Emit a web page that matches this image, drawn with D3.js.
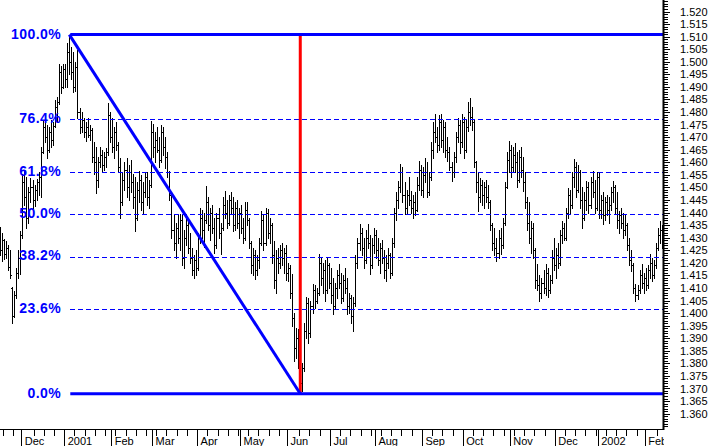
<!DOCTYPE html>
<html><head><meta charset="utf-8">
<script src="https://cdn.jsdelivr.net/npm/d3@7"></script>
<style>body{margin:0;background:#fff}svg{display:block}</style>
</head><body><svg id="c" width="714" height="446"></svg>
<script>
const startDate = "2000-11-16";
const monthLabels = ["Dec","2001","Feb","Mar","Apr","May","Jun","Jul","Aug","Sep","Oct","Nov","Dec","2002","Feb"];
const fibLevels = [0, 23.6, 38.2, 50.0, 61.8, 76.4, 100.0];
const fibLabels = ["0.0%","23.6%","38.2%","50.0%","61.8%","76.4%","100.0%"];

const opens = [
1.4300,1.4250,1.4290,1.4235,1.4260,1.4185,1.4100,1.3990,1.4070,1.4160,
1.4220,1.4310,1.4520,1.4460,1.4380,1.4480,1.4500,1.4450,1.4490,1.4520,
1.4540,1.4640,1.4740,1.4700,1.4650,1.4720,1.4690,1.4745,1.4820,1.4840,
1.4960,1.4900,1.4970,1.4930,1.5040,1.5000,1.4960,1.4900,1.4980,1.4800,
1.4740,1.4770,1.4720,1.4740,1.4710,1.4730,1.4620,1.4600,1.4530,1.4600,
1.4630,1.4590,1.4620,1.4640,1.4790,1.4700,1.4660,1.4720,1.4670,1.4580,
1.4440,1.4530,1.4570,1.4500,1.4560,1.4520,1.4460,1.4380,1.4490,1.4530,
1.4440,1.4480,1.4540,1.4460,1.4510,1.4720,1.4660,1.4690,1.4650,1.4610,
1.4720,1.4660,1.4620,1.4560,1.4470,1.4330,1.4280,1.4340,1.4300,1.4370,
1.4220,1.4300,1.4350,1.4260,1.4220,1.4170,1.4210,1.4180,1.4300,1.4380,
1.4330,1.4370,1.4440,1.4350,1.4400,1.4340,1.4270,1.4380,1.4320,1.4340,
1.4430,1.4400,1.4360,1.4450,1.4420,1.4350,1.4420,1.4360,1.4400,1.4340,
1.4300,1.4410,1.4370,1.4280,1.4190,1.4230,1.4170,1.4210,1.4280,1.4370,
1.4280,1.4400,1.4320,1.4350,1.4230,1.4130,1.4220,1.4200,1.4250,1.4220,
1.4240,1.4160,1.4180,1.4080,1.3980,1.3860,1.3900,1.3810,1.3720,1.3780,
1.3930,1.4040,1.3920,1.4030,1.4090,1.4050,1.4080,1.4200,1.4140,1.4170,
1.4090,1.4190,1.4120,1.4070,1.4030,1.4100,1.4150,1.4120,1.4060,1.4130,
1.4100,1.4030,1.4060,1.3990,1.4040,1.4200,1.4280,1.4320,1.4260,1.4210,
1.4300,1.4280,1.4190,1.4270,1.4310,1.4250,1.4210,1.4260,1.4220,1.4170,
1.4200,1.4230,1.4160,1.4280,1.4400,1.4450,1.4500,1.4560,1.4470,1.4420,
1.4470,1.4450,1.4420,1.4440,1.4410,1.4510,1.4570,1.4490,1.4550,1.4560,
1.4480,1.4540,1.4650,1.4720,1.4700,1.4670,1.4760,1.4690,1.4740,1.4650,
1.4640,1.4580,1.4560,1.4620,1.4700,1.4750,1.4680,1.4760,1.4650,1.4740,
1.4800,1.4780,1.4760,1.4600,1.4520,1.4460,1.4510,1.4470,1.4500,1.4460,
1.4440,1.4350,1.4280,1.4260,1.4240,1.4300,1.4270,1.4360,1.4500,1.4610,
1.4650,1.4580,1.4630,1.4600,1.4530,1.4620,1.4570,1.4520,1.4440,1.4360,
1.4300,1.4340,1.4250,1.4130,1.4110,1.4080,1.4120,1.4100,1.4160,1.4090,
1.4130,1.4220,1.4190,1.4230,1.4200,1.4310,1.4340,1.4300,1.4400,1.4470,
1.4430,1.4540,1.4580,1.4490,1.4560,1.4450,1.4380,1.4450,1.4500,1.4430,
1.4520,1.4480,1.4420,1.4540,1.4410,1.4450,1.4390,1.4440,1.4410,1.4430,
1.4480,1.4500,1.4420,1.4370,1.4390,1.4360,1.4330,1.4350,1.4270,1.4210,
1.4190,1.4100,1.4070,1.4090,1.4150,1.4120,1.4140,1.4110,1.4170,1.4200,
1.4150,1.4190,1.4260,1.4310,1.4330];

const highs = [
1.4344,1.4320,1.4296,1.4285,1.4270,1.4249,1.4105,1.4089,1.4181,1.4249,
1.4328,1.4555,1.4567,1.4540,1.4500,1.4539,1.4530,1.4510,1.4535,1.4560,
1.4659,1.4766,1.4778,1.4750,1.4740,1.4770,1.4760,1.4846,1.4860,1.4993,
1.4985,1.4993,1.4990,1.5073,1.5108,1.5057,1.5040,1.5000,1.5045,1.4818,
1.4800,1.4778,1.4760,1.4775,1.4750,1.4735,1.4680,1.4659,1.4620,1.4659,
1.4650,1.4640,1.4655,1.4834,1.4800,1.4778,1.4740,1.4760,1.4680,1.4619,
1.4560,1.4600,1.4619,1.4590,1.4610,1.4555,1.4540,1.4520,1.4567,1.4550,
1.4520,1.4560,1.4560,1.4530,1.4766,1.4754,1.4720,1.4740,1.4700,1.4750,
1.4740,1.4700,1.4640,1.4567,1.4480,1.4396,1.4360,1.4390,1.4396,1.4390,
1.4330,1.4380,1.4370,1.4320,1.4260,1.4230,1.4250,1.4320,1.4420,1.4410,
1.4400,1.4507,1.4460,1.4420,1.4430,1.4380,1.4400,1.4420,1.4360,1.4460,
1.4487,1.4450,1.4470,1.4480,1.4460,1.4440,1.4448,1.4420,1.4430,1.4380,
1.4440,1.4440,1.4380,1.4288,1.4260,1.4250,1.4230,1.4300,1.4408,1.4390,
1.4420,1.4415,1.4380,1.4360,1.4288,1.4250,1.4260,1.4270,1.4277,1.4260,
1.4270,1.4200,1.4190,1.4157,1.4000,1.3942,1.3935,1.3830,1.3800,1.3960,
1.4062,1.4060,1.4050,1.4117,1.4110,1.4100,1.4237,1.4220,1.4200,1.4210,
1.4220,1.4200,1.4181,1.4140,1.4120,1.4170,1.4197,1.4160,1.4150,1.4180,
1.4140,1.4080,1.4070,1.4062,1.4230,1.4300,1.4356,1.4340,1.4300,1.4330,
1.4356,1.4310,1.4300,1.4340,1.4330,1.4300,1.4280,1.4290,1.4250,1.4230,
1.4260,1.4240,1.4300,1.4420,1.4480,1.4527,1.4595,1.4580,1.4520,1.4490,
1.4540,1.4487,1.4470,1.4480,1.4540,1.4607,1.4590,1.4580,1.4619,1.4600,
1.4560,1.4680,1.4760,1.4794,1.4740,1.4790,1.4794,1.4770,1.4760,1.4700,
1.4660,1.4600,1.4640,1.4720,1.4778,1.4770,1.4794,1.4780,1.4770,1.4840,
1.4854,1.4820,1.4770,1.4607,1.4560,1.4539,1.4530,1.4520,1.4530,1.4510,
1.4450,1.4360,1.4340,1.4300,1.4330,1.4340,1.4380,1.4520,1.4640,1.4686,
1.4670,1.4660,1.4675,1.4640,1.4650,1.4660,1.4620,1.4560,1.4460,1.4440,
1.4368,1.4360,1.4260,1.4197,1.4150,1.4140,1.4170,1.4197,1.4180,1.4150,
1.4250,1.4300,1.4260,1.4280,1.4330,1.4368,1.4360,1.4420,1.4499,1.4490,
1.4560,1.4615,1.4600,1.4590,1.4570,1.4500,1.4480,1.4527,1.4520,1.4540,
1.4567,1.4530,1.4560,1.4560,1.4470,1.4480,1.4460,1.4470,1.4460,1.4500,
1.4527,1.4510,1.4480,1.4408,1.4420,1.4400,1.4390,1.4360,1.4300,1.4250,
1.4200,1.4117,1.4110,1.4170,1.4197,1.4160,1.4180,1.4190,1.4237,1.4220,
1.4210,1.4280,1.4340,1.4368,1.4350];

const lows = [
1.4230,1.4209,1.4215,1.4220,1.4170,1.4141,1.3962,1.3985,1.4060,1.4141,
1.4157,1.4300,1.4430,1.4340,1.4360,1.4440,1.4420,1.4425,1.4450,1.4470,
1.4460,1.4635,1.4680,1.4619,1.4640,1.4660,1.4670,1.4740,1.4766,1.4830,
1.4874,1.4894,1.4900,1.4898,1.4953,1.4930,1.4878,1.4885,1.4778,1.4715,
1.4720,1.4700,1.4686,1.4700,1.4690,1.4600,1.4555,1.4476,1.4500,1.4580,
1.4567,1.4570,1.4580,1.4630,1.4680,1.4640,1.4619,1.4650,1.4560,1.4380,
1.4430,1.4490,1.4460,1.4448,1.4480,1.4420,1.4328,1.4370,1.4440,1.4410,
1.4396,1.4460,1.4430,1.4420,1.4500,1.4620,1.4600,1.4640,1.4580,1.4600,
1.4630,1.4579,1.4540,1.4448,1.4300,1.4250,1.4221,1.4280,1.4250,1.4190,
1.4181,1.4270,1.4240,1.4200,1.4150,1.4141,1.4150,1.4170,1.4280,1.4300,
1.4261,1.4360,1.4330,1.4290,1.4320,1.4240,1.4260,1.4300,1.4237,1.4330,
1.4380,1.4340,1.4350,1.4400,1.4328,1.4330,1.4340,1.4300,1.4320,1.4277,
1.4290,1.4350,1.4260,1.4160,1.4150,1.4137,1.4150,1.4181,1.4270,1.4250,
1.4270,1.4300,1.4277,1.4200,1.4100,1.4078,1.4160,1.4180,1.4190,1.4160,
1.4130,1.4129,1.4060,1.3950,1.3811,1.3820,1.3783,1.3679,1.3690,1.3770,
1.3900,1.3879,1.3903,1.4000,1.4020,1.4040,1.4070,1.4110,1.4080,1.4050,
1.4080,1.4100,1.4040,1.3998,1.4020,1.4060,1.4100,1.4040,1.4050,1.4080,
1.3998,1.4000,1.3960,1.3930,1.4030,1.4181,1.4250,1.4230,1.4180,1.4200,
1.4260,1.4157,1.4180,1.4240,1.4220,1.4190,1.4160,1.4200,1.4140,1.4129,
1.4180,1.4140,1.4150,1.4261,1.4370,1.4420,1.4480,1.4440,1.4396,1.4400,
1.4430,1.4400,1.4380,1.4390,1.4408,1.4490,1.4470,1.4460,1.4520,1.4460,
1.4470,1.4530,1.4619,1.4680,1.4640,1.4650,1.4660,1.4640,1.4620,1.4607,
1.4570,1.4527,1.4540,1.4600,1.4680,1.4635,1.4660,1.4619,1.4640,1.4726,
1.4750,1.4730,1.4580,1.4480,1.4408,1.4440,1.4430,1.4420,1.4440,1.4420,
1.4330,1.4250,1.4230,1.4209,1.4220,1.4237,1.4260,1.4350,1.4499,1.4560,
1.4540,1.4560,1.4560,1.4500,1.4520,1.4540,1.4487,1.4420,1.4330,1.4277,
1.4240,1.4221,1.4100,1.4090,1.4050,1.4060,1.4080,1.4070,1.4062,1.4080,
1.4120,1.4170,1.4141,1.4180,1.4190,1.4277,1.4290,1.4290,1.4380,1.4400,
1.4420,1.4500,1.4460,1.4480,1.4420,1.4340,1.4370,1.4410,1.4400,1.4420,
1.4460,1.4400,1.4410,1.4380,1.4380,1.4356,1.4370,1.4390,1.4360,1.4410,
1.4440,1.4400,1.4340,1.4320,1.4340,1.4300,1.4310,1.4250,1.4190,1.4169,
1.4080,1.4050,1.4055,1.4080,1.4100,1.4078,1.4090,1.4100,1.4140,1.4129,
1.4140,1.4180,1.4249,1.4280,1.4260];

const closes = [
1.4250,1.4290,1.4235,1.4260,1.4185,1.4150,1.3990,1.4070,1.4160,1.4220,
1.4310,1.4520,1.4460,1.4380,1.4480,1.4500,1.4450,1.4490,1.4520,1.4540,
1.4640,1.4740,1.4700,1.4650,1.4720,1.4690,1.4745,1.4820,1.4840,1.4960,
1.4900,1.4970,1.4930,1.5040,1.5000,1.4960,1.4900,1.4980,1.4800,1.4740,
1.4770,1.4720,1.4740,1.4710,1.4730,1.4620,1.4600,1.4530,1.4600,1.4630,
1.4590,1.4620,1.4640,1.4790,1.4700,1.4660,1.4720,1.4670,1.4580,1.4440,
1.4530,1.4570,1.4500,1.4560,1.4520,1.4460,1.4380,1.4490,1.4530,1.4440,
1.4480,1.4540,1.4460,1.4510,1.4720,1.4660,1.4690,1.4650,1.4610,1.4720,
1.4660,1.4620,1.4560,1.4470,1.4330,1.4280,1.4340,1.4300,1.4370,1.4220,
1.4300,1.4350,1.4260,1.4220,1.4170,1.4210,1.4180,1.4300,1.4380,1.4330,
1.4370,1.4440,1.4350,1.4400,1.4340,1.4270,1.4380,1.4320,1.4340,1.4430,
1.4400,1.4360,1.4450,1.4420,1.4350,1.4420,1.4360,1.4400,1.4340,1.4300,
1.4410,1.4370,1.4280,1.4190,1.4230,1.4170,1.4210,1.4280,1.4370,1.4280,
1.4400,1.4320,1.4350,1.4230,1.4130,1.4220,1.4200,1.4250,1.4220,1.4240,
1.4160,1.4180,1.4080,1.3980,1.3860,1.3900,1.3810,1.3720,1.3780,1.3930,
1.4040,1.3920,1.4030,1.4090,1.4050,1.4080,1.4200,1.4140,1.4170,1.4090,
1.4190,1.4120,1.4070,1.4030,1.4100,1.4150,1.4120,1.4060,1.4130,1.4100,
1.4030,1.4060,1.3990,1.4040,1.4200,1.4280,1.4320,1.4260,1.4210,1.4300,
1.4280,1.4190,1.4270,1.4310,1.4250,1.4210,1.4260,1.4220,1.4170,1.4200,
1.4230,1.4160,1.4280,1.4400,1.4450,1.4500,1.4560,1.4470,1.4420,1.4470,
1.4450,1.4420,1.4440,1.4410,1.4510,1.4570,1.4490,1.4550,1.4560,1.4480,
1.4540,1.4650,1.4720,1.4700,1.4670,1.4760,1.4690,1.4740,1.4650,1.4640,
1.4580,1.4560,1.4620,1.4700,1.4750,1.4680,1.4760,1.4650,1.4740,1.4800,
1.4780,1.4760,1.4600,1.4520,1.4460,1.4510,1.4470,1.4500,1.4460,1.4440,
1.4350,1.4280,1.4260,1.4240,1.4300,1.4270,1.4360,1.4500,1.4610,1.4650,
1.4580,1.4630,1.4600,1.4530,1.4620,1.4570,1.4520,1.4440,1.4360,1.4300,
1.4340,1.4250,1.4130,1.4110,1.4080,1.4120,1.4100,1.4160,1.4090,1.4130,
1.4220,1.4190,1.4230,1.4200,1.4310,1.4340,1.4300,1.4400,1.4470,1.4430,
1.4540,1.4580,1.4490,1.4560,1.4450,1.4380,1.4450,1.4500,1.4430,1.4520,
1.4480,1.4420,1.4540,1.4410,1.4450,1.4390,1.4440,1.4410,1.4430,1.4480,
1.4500,1.4420,1.4370,1.4390,1.4360,1.4330,1.4350,1.4270,1.4210,1.4190,
1.4100,1.4070,1.4090,1.4150,1.4120,1.4140,1.4110,1.4170,1.4200,1.4150,
1.4190,1.4260,1.4310,1.4330,1.4290];

const n = closes.length;
// trading-day calendar (weekdays from the start date)
const dates = [];
{ const d = new Date(startDate + "T12:00:00Z");
  while (dates.length < n) { const wd = d.getUTCDay(); if (wd !== 0 && wd !== 6) dates.push(new Date(d)); d.setUTCDate(d.getUTCDate() + 1); } }

const svg = d3.select("#c");
const plotRight = 664, axisY = 429.5;
const x = d3.scaleLinear().domain([0, n - 1]).range([-0.2, -0.2 + 2.044 * (n - 1)]);
const y = d3.scaleLinear().domain([1.360, 1.520]).range([413.6, 11.5]);
const FONT = "'Liberation Sans', Arial, Helvetica, sans-serif";
const BLUE = "#0000ff";

svg.append("defs").append("clipPath").attr("id", "plotclip")
  .append("rect").attr("x", 0).attr("y", 0).attr("width", plotRight - 1).attr("height", axisY);
svg.select("defs").append("clipPath").attr("id", "xclip")
  .append("rect").attr("x", 0).attr("y", axisY - 1).attr("width", plotRight).attr("height", 30);

// OHLC bars
const bars = svg.append("g").attr("clip-path", "url(#plotclip)")
  .attr("stroke", "#000").attr("stroke-width", 1).attr("shape-rendering", "crispEdges");
const cx = i => Math.round(x(i));
const py = v => Math.round(y(v)) + 0.5;
d3.range(n).forEach(i => {
  const g = bars.append("g");
  g.append("line").attr("x1", cx(i) + 0.5).attr("x2", cx(i) + 0.5)
    .attr("y1", Math.round(y(highs[i]))).attr("y2", Math.round(y(lows[i])) + 1);
  g.append("line").attr("x1", cx(i) - 1).attr("x2", cx(i)).attr("y1", py(opens[i])).attr("y2", py(opens[i]));
  g.append("line").attr("x1", cx(i) + 1).attr("x2", cx(i) + 2).attr("y1", py(closes[i])).attr("y2", py(closes[i]));
});

// fibonacci retracement
const hiIdx = d3.maxIndex(highs), loIdx = d3.minIndex(lows);
const hi = highs[hiIdx], lo = lows[loIdx];
const fx0 = x(hiIdx) + 1;
const fib = svg.append("g");
fibLevels.forEach((lv, k) => {
  const v = lo + (hi - lo) * lv / 100;
  const yy = y(v);
  const solid = (lv === 0 || lv === 100);
  if (!solid) {
    fib.append("line").attr("x1", fx0).attr("x2", plotRight).attr("y1", Math.round(yy) + 0.5).attr("y2", Math.round(yy) + 0.5)
      .attr("stroke", BLUE).attr("stroke-width", 1).attr("stroke-dasharray", "5,3").attr("shape-rendering", "crispEdges");
  }
  fib.append("text").attr("x", 61).attr("y", yy - 1).attr("dy", "0.35em")
    .attr("text-anchor", "end").attr("font-family", FONT).attr("font-weight", "bold")
    .attr("font-size", 14).attr("letter-spacing", 0.4).attr("fill", BLUE).text(fibLabels[k]);
});
svg.append("line").attr("x1", x(loIdx)).attr("x2", x(loIdx)).attr("y1", y(hi)).attr("y2", y(lo))
  .attr("stroke", "#ff0000").attr("stroke-width", 3);
[hi, lo].forEach(v => {
  svg.append("line").attr("x1", fx0).attr("x2", plotRight).attr("y1", y(v)).attr("y2", y(v))
    .attr("stroke", BLUE).attr("stroke-width", 3);
});
svg.append("line").attr("x1", x(hiIdx)).attr("y1", y(hi)).attr("x2", x(loIdx)).attr("y2", y(lo))
  .attr("stroke", BLUE).attr("stroke-width", 3);

// right price axis
const majors = d3.range(1360, 1521, 5).map(v => v / 1000);
const minors = d3.range(1355, 1525, 1).map(v => v / 1000);
const ra = svg.append("g").attr("transform", `translate(${plotRight},0)`).attr("shape-rendering", "crispEdges");
ra.append("g").call(d3.axisRight(y).tickValues(minors).tickSize(4).tickFormat(""))
  .call(g => g.select(".domain").remove());
ra.append("g").call(d3.axisRight(y).tickValues(majors).tickSize(6).tickPadding(10).tickFormat(d3.format(".3f")))
  .call(g => g.select(".domain").remove())
  .call(g => g.selectAll("text").attr("font-family", FONT).attr("font-size", 11).attr("fill", "#000"));
ra.selectAll("line").attr("stroke", "#000");
svg.append("line").attr("x1", plotRight - 0.5).attr("x2", plotRight - 0.5).attr("y1", 0).attr("y2", axisY + 0.5)
  .attr("stroke", "#000").attr("stroke-width", 2);

// bottom date axis
const monthIdx = [];
for (let i = 1; i < n; i++) if (dates[i].getUTCMonth() !== dates[i - 1].getUTCMonth()) monthIdx.push(i);
const mondayIdx = d3.range(n).filter(i => dates[i].getUTCDay() === 1 && !monthIdx.includes(i) && !monthIdx.includes(i - 1));
const xt = x.copy().range(x.range().map(r => r - 1));
const ba = svg.append("g").attr("clip-path", "url(#xclip)").attr("shape-rendering", "crispEdges");
const bg = ba.append("g").attr("transform", `translate(0,${axisY})`);
bg.append("g").call(d3.axisBottom(xt).tickValues(mondayIdx).tickSize(6).tickFormat(""))
  .call(g => g.select(".domain").remove());
bg.append("g").call(d3.axisBottom(xt).tickValues(monthIdx).tickSize(17)
    .tickFormat((d, k) => monthLabels[k]))
  .call(g => g.select(".domain").remove())
  .call(g => g.selectAll("text").attr("text-anchor", "start").attr("x", 3).attr("y", 15.5).attr("dy", 0)
    .attr("font-family", FONT).attr("font-size", 11).attr("fill", "#000"));
bg.selectAll("line").attr("stroke", "#000");
svg.append("line").attr("x1", 0).attr("x2", plotRight).attr("y1", axisY).attr("y2", axisY)
  .attr("stroke", "#000").attr("stroke-width", 1).attr("shape-rendering", "crispEdges");
</script></body></html>
